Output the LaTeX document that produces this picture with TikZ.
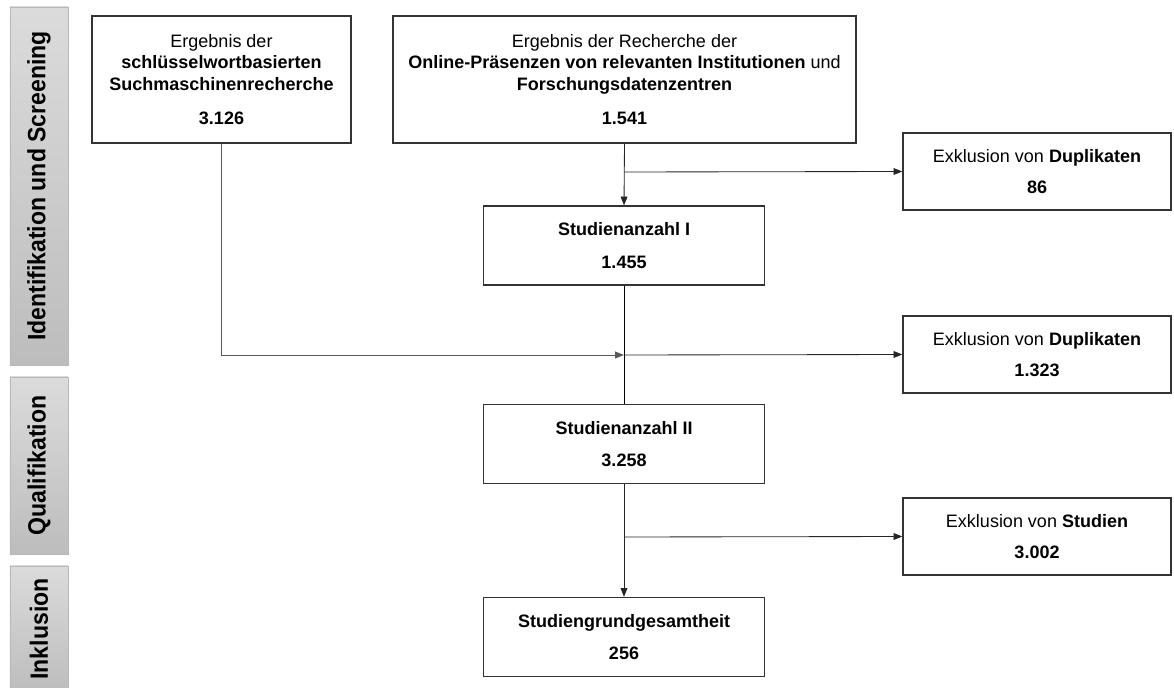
\documentclass[tikz,border=0pt]{standalone}
\usepackage{fontspec}
\setmainfont{Liberation Sans}
\newfontfamily\narrowfont[FakeStretch=0.92]{Liberation Sans}
\usetikzlibrary{arrows.meta}

\tikzset{%
  % Specifications for style of nodes:
         phase/.style = {rectangle, draw = black!28, top color = black!14, bottom color = black!26, minimum height=1.45cm, inner sep=0pt, rotate=90, font=\narrowfont\fontsize{17.8}{20}\selectfont\bfseries},
          base/.style = {rectangle, draw = black!80, line width=0.9pt, fill=white, align=center, inner sep=2pt, font=\fontsize{12.8}{15.3}\selectfont},
          conn/.style = {-{Triangle[length=2.2mm, width=1.7mm]}, line width=0.6pt, black!85},
}

\begin{document}
\begin{tikzpicture}[x=0.025cm, y=-0.025cm]
    \useasboundingbox (0,0) rectangle (1174,688);

    % Draw phases
    \node (ident)      [phase, minimum width=8.95cm]  at (39,186)   {Identifikation und Screening};
    \node (quali)      [phase, minimum width=4.425cm] at (39,465.5) {Qualifikation};
    \node (inkl)       [phase, minimum width=3.15cm]  at (39,629)   {Inklusion};

    % Draw nodes
    \node (suche)      [base, minimum width=6.475cm, minimum height=3.175cm] at (221.5,79.5)
        {Ergebnis der\\\textbf{schlüsselwortbasierten}\\\textbf{Suchmaschinenrecherche}\\[9pt]\textbf{3.126}};
    \node (recherche)  [base, minimum width=11.575cm, minimum height=3.175cm] at (624.5,79.5)
        {Ergebnis der Recherche der\\\textbf{Online-Präsenzen von relevanten Institutionen} und\\\textbf{Forschungsdatenzentren}\\[9pt]\textbf{1.541}};
    \node (anzahl1)    [base, minimum width=7.025cm, minimum height=1.975cm] at (624,245.5)
        {\textbf{Studienanzahl I}\\[8pt]\textbf{1.455}};
    \node (anzahl2)    [base, minimum width=7.025cm, minimum height=1.975cm] at (624,444)
        {\textbf{Studienanzahl II}\\[8pt]\textbf{3.258}};
    \node (gesamt)     [base, minimum width=7.025cm, minimum height=1.975cm] at (624,637)
        {\textbf{Studiengrundgesamtheit}\\[8pt]\textbf{256}};
    \node (exkl1)      [base, minimum width=6.7cm, minimum height=1.925cm] at (1037,171.5)
        {Exklusion von \textbf{Duplikaten}\\[7pt]\textbf{86}};
    \node (exkl2)      [base, minimum width=6.7cm, minimum height=1.925cm] at (1037,354.5)
        {Exklusion von \textbf{Duplikaten}\\[7pt]\textbf{1.323}};
    \node (exkl3)      [base, minimum width=6.7cm, minimum height=1.925cm] at (1037,536.5)
        {Exklusion von \textbf{Studien}\\[7pt]\textbf{3.002}};

    \coordinate (j1) at (624,172);
    \coordinate (j2) at (624,355);
    \coordinate (j3) at (624,537);

    % Draw arrows
    \draw[conn]             (recherche.south) -- (anzahl1.north);
    \draw[conn]             (j1) -- (exkl1.west);
    \draw[line width=0.6pt] (anzahl1.south) -- (anzahl2.north);
    \draw[conn, black!65]   (suche.south) |- (j2);
    \draw[conn]             (j2) -- (exkl2.west);
    \draw[conn]             (anzahl2.south) -- (gesamt.north);
    \draw[conn]             (j3) -- (exkl3.west);

\end{tikzpicture}
\end{document}
